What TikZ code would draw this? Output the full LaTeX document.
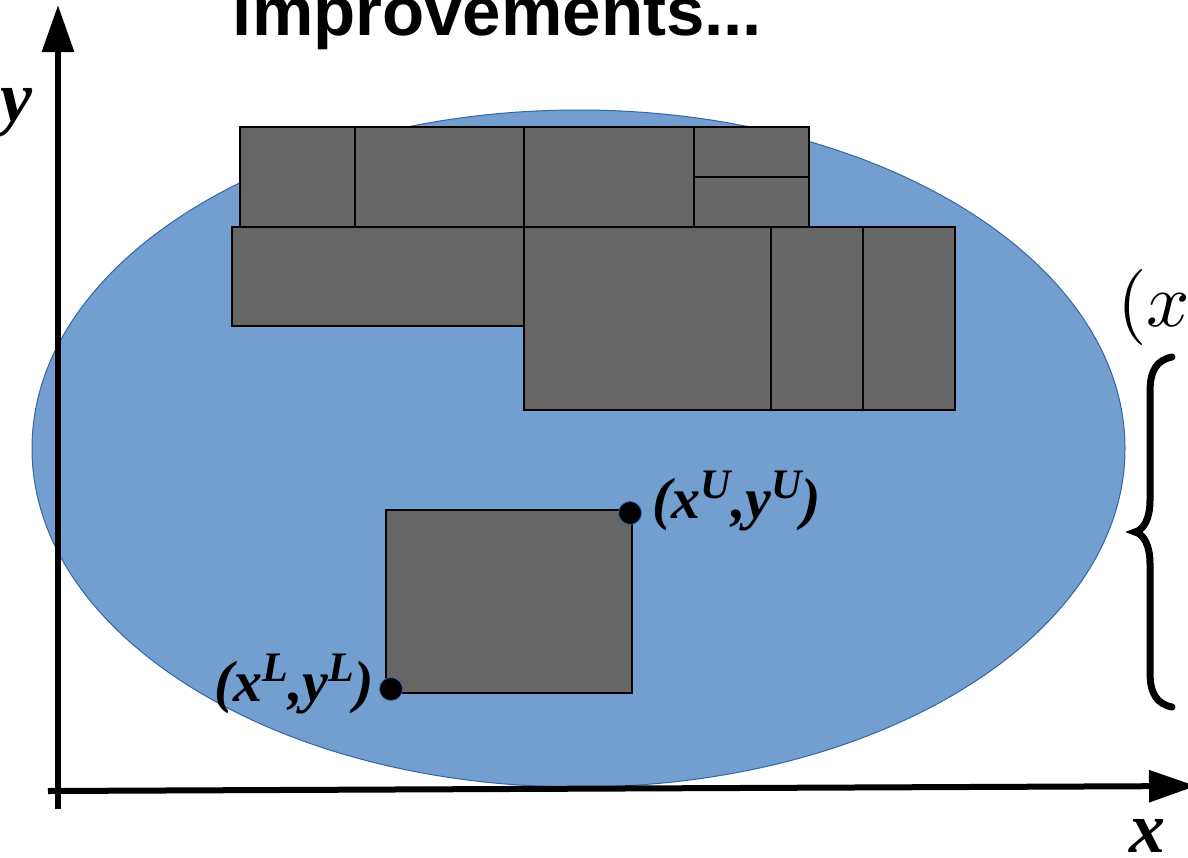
\documentclass[tikz,border=0pt]{standalone}
\usepackage{fontspec}
\usepackage{tikz}
\usetikzlibrary{arrows.meta,positioning}
\newfontfamily\sansbold{Liberation Sans}
\newfontfamily\serifbi{Liberation Serif}
\definecolor{skyfill}{HTML}{729FCF}
\definecolor{skyline}{HTML}{3465A4}
\definecolor{blockgray}{HTML}{666666}
\tikzset{
  every picture/.style={>=Stealth},
  axis/.style={line width=3pt, -{Triangle[length=23.5pt,width=15.5pt]}},
  block/.style={fill=blockgray, draw=black, line width=1pt},
  corner/.style={fill=black, draw=skyline, line width=0.4pt},
  coordlabel/.style={font=\serifbi\bfseries\itshape\fontsize{29}{30}\selectfont, inner sep=0pt, anchor=base west},
  axislabel/.style={font=\serifbi\bfseries\itshape\fontsize{36}{40}\selectfont, inner sep=0pt, anchor=base west},
}
\newcommand{\sups}[1]{\raisebox{0.34em}{\fontsize{21}{22}\selectfont #1}}

\begin{document}
\begin{tikzpicture}[x=0.5pt,y=-0.5pt]
\useasboundingbox (0,0) rectangle (1188,857);
% feasible region
\fill[skyfill,draw=skyline,line width=0.5pt] (578.5,448.5) ellipse [x radius=546.5, y radius=338.5];
% packed blocks
\foreach \xa/\ya/\xb/\yb in {240/127/355/227, 355/127/524/227, 524/127/694/227,
  694/127/809/177, 694/177/809/227, 232/227/524/326, 524/227/771/410,
  771/227/863/410, 863/227/955/410}
  \draw[block] (\xa,\ya) rectangle (\xb,\yb);
% the new block
\draw[block] (386,510) rectangle (632,693);
% axes
\coordinate (xfrom) at (48,791);
\coordinate (xto) at (1196,786);
\coordinate (yfrom) at (58,809);
\coordinate (yto) at (58,5);
\draw[axis] (xfrom) -- (xto);
\draw[axis] (yfrom) -- (yto);
\node[axislabel] (ylab) at (0,121) {y};
\node[axislabel] (xlab) at (1129,852) {x};
% corners
\filldraw[corner] (630,513) circle (11.5) coordinate (upper);
\filldraw[corner] (391,689) circle (11.5) coordinate (lower);
\node[coordlabel] (ulab) at (652,518) {(x\sups{U},y\sups{U})};
\node[coordlabel,anchor=base east] (llab) at (374,701) {(x\sups{L},y\sups{L})};
% title and the cut-off formula
\node[font=\sansbold\bfseries\fontsize{34.5}{36}\selectfont, anchor=base, inner sep=0pt] (title) at (497.5,35) {improvements...};
\node[anchor=base west, inner sep=0pt] (pair) at (1117,326) {\scalebox{3.8}{$(x$}};
\draw[line width=3.5pt, line cap=round] (1172,357) .. controls (1157,360) and (1150,370) .. (1150,392)
  -- (1150,500) .. controls (1150,520) and (1143,530) .. (1135,532)
  .. controls (1143,534) and (1150,544) .. (1150,564) -- (1150,672)
  .. controls (1150,694) and (1157,704) .. (1172,707);
\end{tikzpicture}
\end{document}
